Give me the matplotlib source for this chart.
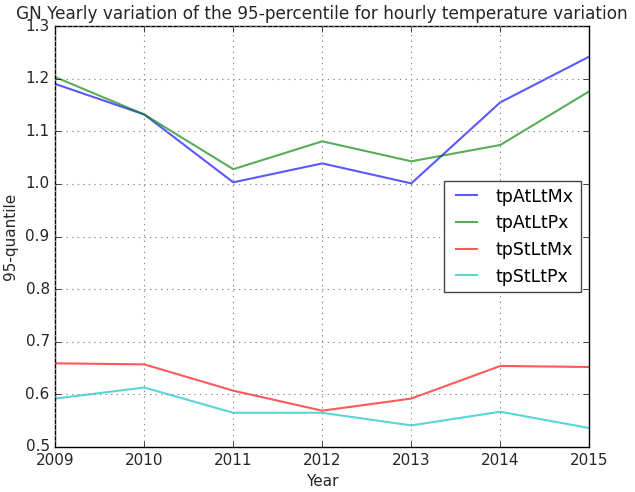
import matplotlib
matplotlib.use('Agg')
import matplotlib.pyplot as plt

plt.style.use('classic')

years = [2009, 2010, 2011, 2012, 2013, 2014, 2015]
tpAtLtMx = [1.190, 1.132, 1.003, 1.039, 1.001, 1.155, 1.242]
tpAtLtPx = [1.203, 1.132, 1.028, 1.081, 1.043, 1.074, 1.176]
tpStLtMx = [0.659, 0.657, 0.607, 0.569, 0.592, 0.654, 0.652]
tpStLtPx = [0.592, 0.613, 0.565, 0.565, 0.541, 0.567, 0.536]

fig = plt.figure(figsize=(6.35, 4.92), dpi=100, facecolor='white')
ax = fig.add_axes([0.087, 0.0915, 0.841, 0.8555])

ax.plot(years, tpAtLtMx, color='b', alpha=0.65, lw=1.5, label='tpAtLtMx')
ax.plot(years, tpAtLtPx, color='g', alpha=0.65, lw=1.5, label='tpAtLtPx')
ax.plot(years, tpStLtMx, color='r', alpha=0.65, lw=1.5, label='tpStLtMx')
ax.plot(years, tpStLtPx, color='c', alpha=0.65, lw=1.5, label='tpStLtPx')

ax.set_xlim(2009, 2015)
ax.set_ylim(0.5, 1.3)
ax.xaxis.set_major_formatter(matplotlib.ticker.FormatStrFormatter('%d'))
ax.grid(True, color='0.55', linestyle=':', linewidth=0.8)
ax.tick_params(labelsize=11, labelcolor='#262626')
ax.set_xlabel('Year', fontsize=11, color='#262626')
ax.set_ylabel('95-quantile', fontsize=11, color='#262626')
ax.set_title('GN Yearly variation of the 95-percentile for hourly temperature variation',
             fontsize=12.2, color='#262626')
leg = ax.legend(loc='center right', fontsize=12.5, handlelength=1.8)
leg.get_frame().set_edgecolor('#444444')

fig.savefig('out.png', dpi=100, facecolor='white')
